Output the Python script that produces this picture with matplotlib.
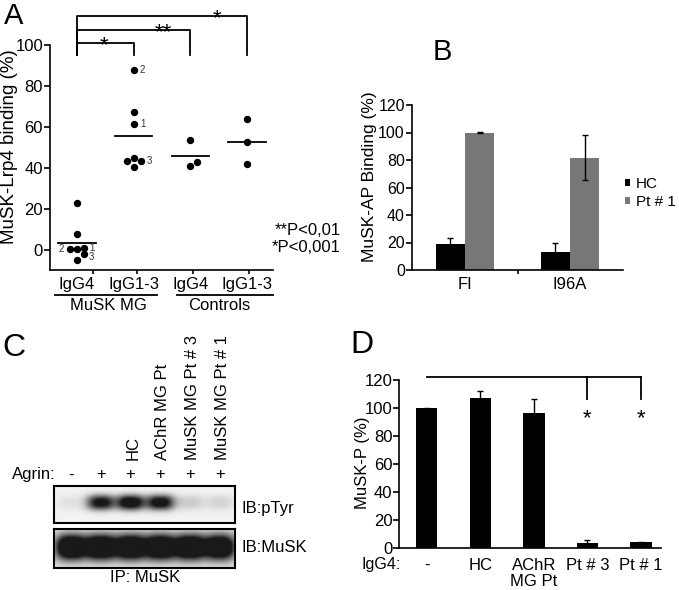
import numpy as np
import matplotlib
matplotlib.use('Agg')
import matplotlib.pyplot as plt
from matplotlib.transforms import blended_transform_factory

plt.rcParams['font.family'] = ['Liberation Sans', 'DejaVu Sans']
plt.rcParams['font.size'] = 12
plt.rcParams['axes.linewidth'] = 1.2

W, H = 679, 590

# ---- panel A: MuSK-Lrp4 binding, dot plot
a_groups = ['IgG4', 'IgG1-3', 'IgG4', 'IgG1-3']
a_sets = ['MuSK MG', 'Controls']
a_musk_igg4 = [23.0, 7.7, 0.3, 0.3, 1.0, -2.0, -4.8]
a_musk_igg13 = [87.8, 67.5, 61.5, 43.6, 44.7, 43.4, 40.6]
a_ctrl_igg4 = [53.7, 41.0, 42.8]
a_ctrl_igg13 = [63.9, 52.5, 41.8]
a_stars = ['*', '**', '*']
a_pvals = ['**P<0,01', '*P<0,001']

# ---- panel B: MuSK-AP binding
b_cats = ['FI', 'I96A']
b_hc = [18.7, 13.3]
b_hc_err = [4.3, 6.6]
b_pt = [99.9, 81.7]
b_pt_err = [0.5, 16.5]

# ---- panel C: blot, relative band intensity per lane
c_lanes = ['', '', 'HC', 'AChR MG Pt', 'MuSK MG Pt # 3', 'MuSK MG Pt # 1']
c_agrin = ['-', '+', '+', '+', '+', '+']
c_ptyr = [0.06, 0.85, 0.97, 0.9, 0.14, 0.11]
c_musk = [1.0, 1.0, 1.0, 1.0, 1.0, 0.95]

# ---- panel D: MuSK phosphorylation
d_cats = ['-', 'HC', 'AChR\nMG Pt', 'Pt # 3', 'Pt # 1']
d_vals = [99.8, 107.0, 96.3, 4.0, 4.3]
d_err = [0.5, 5.4, 10.4, 2.0, 0.5]

fig = plt.figure(figsize=(W / 100, H / 100), dpi=100)


def px_axes(x0, y0, x1, y1):
    return fig.add_axes([x0 / W, 1 - y1 / H, (x1 - x0) / W, (y1 - y0) / H])


def ftext(x, y, s, **kw):
    kw.setdefault('ha', 'center')
    kw.setdefault('va', 'center')
    return fig.text(x / W, 1 - y / H, s, **kw)


# ================= A
axA = px_axes(50, 45, 273, 270)
axA.set_xlim(0.524, 4.459)
axA.set_ylim(-9.7, 100)
for s in ['top', 'right']:
    axA.spines[s].set_visible(False)
axA.set_xticks([1.28, 2.06, 3.05, 4.04])
axA.set_xticklabels([])
axA.tick_params(axis='x', length=3, width=1.2)
axA.set_yticks(range(0, 101, 20))
axA.tick_params(axis='y', length=4, width=1.2, labelsize=12, pad=1)

a_data = [a_musk_igg4, a_musk_igg13, a_ctrl_igg4, a_ctrl_igg13]
jitter = [[0, 0, -0.12, 0, 0.13, 0.13, 0],
          [0, 0, 0, -0.12, 0, 0.13, 0],
          [0, 0, 0.12],
          [0, 0, 0]]
for i, vals in enumerate(a_data):
    x = i + 1
    axA.plot(x + np.array(jitter[i]), vals, 'o', color='black', ms=4.3, clip_on=False)
    m = np.mean(vals)
    axA.plot([x - 0.33, x + 0.33], [m, m], color='black', lw=1.3)

# patient numbers next to the dots: (group, point index, dx, dy, label)
pt_marks = [(0, 2, -0.15, 0, '2'), (0, 4, 0.13, 0, '1'), (0, 5, 0.13, -1.2, '3'),
            (1, 0, 0.16, 0, '2'), (1, 2, 0.16, 0, '1'), (1, 5, 0.14, 0, '3')]
for g, k, dx, dy, lab in pt_marks:
    x = g + 1 + jitter[g][k] + dx
    axA.text(x, a_data[g][k] + dy, lab, fontsize=7, color='#333333', ha='center', va='center')

levels = [101, 107.3, 114.1]
star_x = [1.48, 2.52, 3.47]
for j, lvl in enumerate(levels):
    xe = j + 2
    axA.plot([1, 1, xe, xe], [95, lvl, lvl, 95], color='black', lw=1.3, clip_on=False)
    axA.text(star_x[j], lvl - 3.9, a_stars[j], fontsize=16, ha='center', va='baseline')

for i, lab in enumerate(a_groups):
    axA.text(i + 1, -17, lab, ha='center', va='center', fontsize=12, clip_on=False)
axA.plot([0.612, 2.41], [-22, -22], color='black', lw=1.3, clip_on=False)
axA.plot([2.765, 4.459], [-22, -22], color='black', lw=1.3, clip_on=False)
axA.text(1.56, -27, a_sets[0], ha='center', va='center', fontsize=12, clip_on=False)
axA.text(3.51, -27, a_sets[1], ha='center', va='center', fontsize=12, clip_on=False)

ftext(10, 147, 'MuSK-Lrp4 binding (%)', rotation=90, fontsize=13.5)
ftext(341, 230, a_pvals[0], ha='right', fontsize=12)
ftext(341, 248, a_pvals[1], ha='right', fontsize=12)
ftext(14, 16, 'A', fontsize=21)

# ================= B
axB = px_axes(411.7, 105, 622.7, 270)
xb = np.arange(len(b_cats))
ekw = dict(elinewidth=1, capsize=2.5, capthick=1, ecolor='black')
axB.bar(xb - 0.14, b_hc, 0.28, yerr=b_hc_err, color='black', error_kw=ekw, label='HC')
axB.bar(xb + 0.14, b_pt, 0.28, yerr=b_pt_err, color='#777777', error_kw=ekw, label='Pt # 1')
axB.set_xlim(-0.508, 1.502)
axB.set_ylim(0, 120)
for s in ['top', 'right']:
    axB.spines[s].set_visible(False)
axB.set_yticks(range(0, 121, 20))
axB.set_xticks(xb)
axB.set_xticklabels(b_cats, fontsize=12)
axB.set_xticks([0.5], minor=True)
axB.tick_params(axis='x', which='major', length=0, pad=5)
axB.tick_params(axis='x', which='minor', length=3, width=1.2)
axB.tick_params(axis='y', length=4, width=1.2, labelsize=11.5, pad=1)
axB.legend(loc='center left', bbox_to_anchor=(625 / W, 1 - 193 / H), bbox_transform=fig.transFigure,
           frameon=False, fontsize=11, handlelength=0.35, handleheight=0.35, handletextpad=0.35,
           borderpad=0, borderaxespad=0, labelspacing=0.25)
ftext(370, 177, 'MuSK-AP Binding (%)', rotation=90, fontsize=12.5)
ftext(442, 52, 'B', fontsize=21)

# ================= C
lane0, lane_step = 71, 29.8
bx0, bx1 = 54, 235
cx0 = (bx0 - lane0) / lane_step
cx1 = (bx1 - lane0) / lane_step
xs = np.linspace(cx0, cx1, 400)
ys = np.linspace(0, 1, 120)
XX, YY = np.meshgrid(xs, ys)


def blot(ax, inten, yc, sy, sx, gain, bg):
    dark = np.zeros_like(XX)
    for i, v in enumerate(inten):
        dark += v * np.exp(-np.abs((XX - i) / sx) ** 2.6) * np.exp(-np.abs((YY - yc) / sy) ** 2.4)
    dark = np.clip(dark * gain, 0, 1)
    img = bg - dark * (bg - 0.1)
    ax.imshow(img, cmap='gray', vmin=0, vmax=1, extent=[cx0, cx1, 1, 0], aspect='auto',
              interpolation='bilinear')
    ax.set_xlim(cx0, cx1)
    ax.set_ylim(1, 0)
    ax.set_xticks([])
    ax.set_yticks([])
    for s in ax.spines.values():
        s.set_linewidth(1.5)


axC1 = px_axes(bx0, 485.7, bx1, 523.3)
blot(axC1, c_ptyr, 0.46, 0.2, 0.47, 1.3, 0.95)
axC2 = px_axes(bx0, 529, bx1, 568.3)
blot(axC2, c_musk, 0.48, 0.32, 0.52, 1.7, 0.9)

trC = blended_transform_factory(axC1.transData, axC1.transAxes)
for i in range(len(c_lanes)):
    axC1.text(i, 1.285, c_agrin[i], transform=trC, ha='center', va='center', fontsize=12)
    if c_lanes[i]:
        axC1.text(i + 0.08, 1.68, c_lanes[i], transform=trC, rotation=90, ha='center',
                  va='bottom', fontsize=12)
ftext(12, 475, 'Agrin:', ha='left', fontsize=12)
ftext(241.7, 509, 'IB:pTyr', ha='left', fontsize=12)
ftext(241.7, 548, 'IB:MuSK', ha='left', fontsize=12)
ftext(145, 577, 'IP: MuSK', fontsize=12)
ftext(14, 348, 'C', fontsize=23)

# ================= D
axD = px_axes(399.3, 380, 660.7, 548.3)
xd = np.arange(len(d_cats))
axD.bar(xd, d_vals, 0.4, yerr=d_err, color='black',
        error_kw=dict(elinewidth=1, capsize=2.5, capthick=1, ecolor='black'))
axD.set_xlim(-0.511, 4.366)
axD.set_ylim(0, 120)
for s in ['top', 'right']:
    axD.spines[s].set_visible(False)
axD.set_yticks(range(0, 121, 20))
axD.set_xticks(xd)
axD.set_xticklabels(d_cats, fontsize=12, linespacing=1.1)
axD.tick_params(axis='x', length=0, pad=7)
axD.tick_params(axis='y', length=4, width=1.2, labelsize=12, pad=1)
axD.plot([0, 4], [122.4, 122.4], color='black', lw=1.3, clip_on=False)
for xs_ in (3, 4):
    axD.plot([xs_, xs_], [122.4, 106.7], color='black', lw=1.3, clip_on=False)
    axD.text(xs_, 88.3, '*', fontsize=16, ha='center', va='baseline')
ftext(401, 564, 'IgG4:', ha='right', fontsize=11.5)
ftext(363, 463, 'MuSK-P (%)', rotation=90, fontsize=12)
ftext(362, 345, 'D', fontsize=23)

fig.savefig('out.png', dpi=100)
